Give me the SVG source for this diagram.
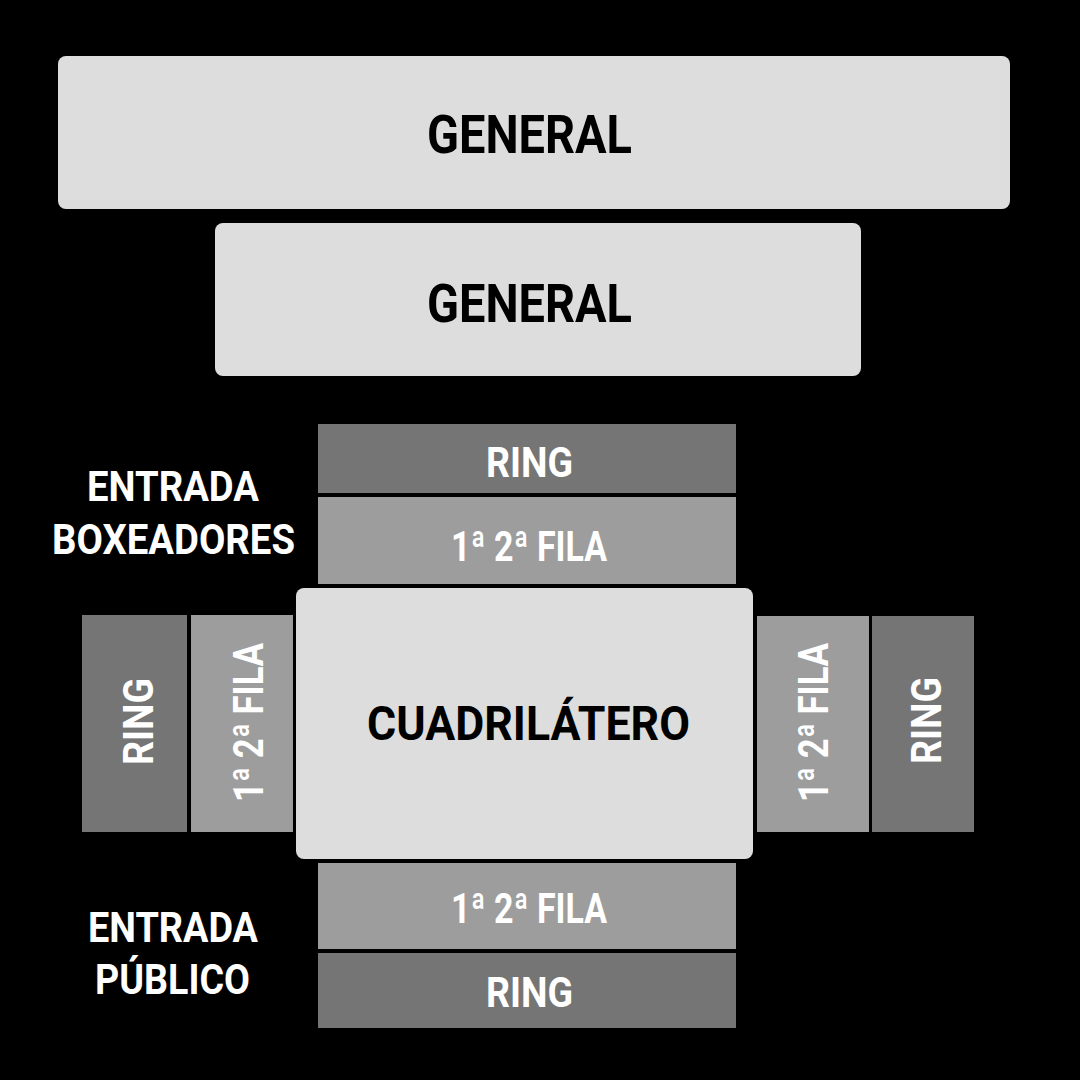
<svg xmlns="http://www.w3.org/2000/svg" width="1080" height="1080" viewBox="0 0 1080 1080">
<style>
  .light { fill: #dddddd; }
  .fila { fill: #9d9d9d; }
  .ring { fill: #757575; }
  text { font-family: Roboto, "Liberation Sans", sans-serif; font-weight: 700; text-anchor: middle; }
  .dark { fill: #000000; }
  .white { fill: #ffffff; }
  .s42 { font-size: 42px; }
</style>
<rect x="0" y="0" width="1080" height="1080" fill="#000000"/>
<g id="general-1">
  <rect class="light" x="58" y="56" width="952" height="153" rx="8"/>
  <text class="dark" x="529.5" y="153" font-size="53" textLength="205" lengthAdjust="spacingAndGlyphs">GENERAL</text>
</g>
<g id="general-2">
  <rect class="light" x="215" y="223" width="646" height="153" rx="8"/>
  <text class="dark" x="529.5" y="322" font-size="53" textLength="205" lengthAdjust="spacingAndGlyphs">GENERAL</text>
</g>
<g id="ring-top">
  <rect class="ring" x="318" y="424" width="418" height="69"/>
  <text class="white s42" x="529.5" y="477" textLength="87" lengthAdjust="spacingAndGlyphs">RING</text>
</g>
<g id="fila-top">
  <rect class="fila" x="318" y="497" width="418" height="87"/>
  <text class="white s42" x="529" y="561" textLength="156" lengthAdjust="spacingAndGlyphs">1ª 2ª FILA</text>
</g>
<g id="cuadrilatero">
  <rect class="light" x="296" y="588" width="457" height="271" rx="8"/>
  <text class="dark" x="528.5" y="740" font-size="49" textLength="323" lengthAdjust="spacingAndGlyphs">CUADRILÁTERO</text>
</g>
<g id="fila-bottom">
  <rect class="fila" x="318" y="863" width="418" height="86"/>
  <text class="white s42" x="529" y="923" textLength="156" lengthAdjust="spacingAndGlyphs">1ª 2ª FILA</text>
</g>
<g id="ring-bottom">
  <rect class="ring" x="318" y="953" width="418" height="75"/>
  <text class="white s42" x="529.5" y="1007" textLength="87" lengthAdjust="spacingAndGlyphs">RING</text>
</g>
<g id="ring-left">
  <rect class="ring" x="82" y="615" width="105" height="217"/>
  <text class="white s42" transform="translate(153,721.5) rotate(-90)" x="0" y="0" textLength="87" lengthAdjust="spacingAndGlyphs">RING</text>
</g>
<g id="fila-left">
  <rect class="fila" x="191" y="615" width="102" height="217"/>
  <text class="white s42" transform="translate(263,722.5) rotate(-90)" x="0" y="0" textLength="159" lengthAdjust="spacingAndGlyphs">1ª 2ª FILA</text>
</g>
<g id="fila-right">
  <rect class="fila" x="757" y="616" width="112" height="216"/>
  <text class="white s42" transform="translate(828,722.5) rotate(-90)" x="0" y="0" textLength="159" lengthAdjust="spacingAndGlyphs">1ª 2ª FILA</text>
</g>
<g id="ring-right">
  <rect class="ring" x="872" y="616" width="102" height="216"/>
  <text class="white s42" transform="translate(941,720.5) rotate(-90)" x="0" y="0" textLength="87" lengthAdjust="spacingAndGlyphs">RING</text>
</g>
<g id="entrada-boxeadores">
  <text class="white s42" x="173" y="501" textLength="172" lengthAdjust="spacingAndGlyphs">ENTRADA</text>
  <text class="white s42" x="173.5" y="554" textLength="243" lengthAdjust="spacingAndGlyphs">BOXEADORES</text>
</g>
<g id="entrada-publico">
  <text class="white s42" x="173" y="942" textLength="170" lengthAdjust="spacingAndGlyphs">ENTRADA</text>
  <text class="white s42" x="172.5" y="994" textLength="155" lengthAdjust="spacingAndGlyphs">PÚBLICO</text>
</g>
<g id="connectors"></g>
</svg>
